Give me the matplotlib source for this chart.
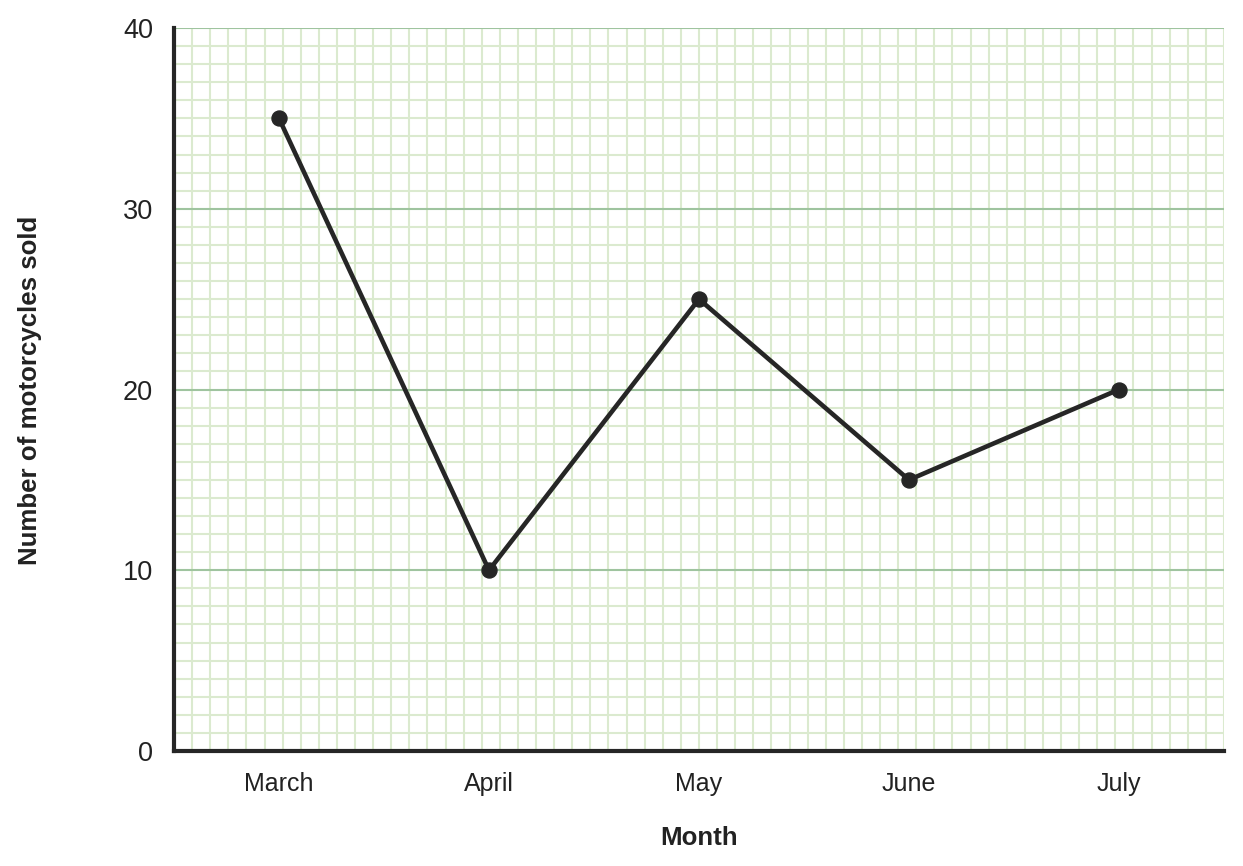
import matplotlib
matplotlib.use("Agg")
import matplotlib.pyplot as plt
import numpy as np

months = ["March", "April", "May", "June", "July"]
sold = [35, 10, 25, 15, 20]

plt.rcParams['font.family'] = ['Liberation Sans', 'DejaVu Sans']

fig = plt.figure(figsize=(12.43, 8.66), dpi=100)
ax = fig.add_axes([174/1243, 1-751/866, (1224-174)/1243, (751-28)/866])

x = np.arange(len(months))
ax.set_xlim(-0.5, len(months) - 0.5)
ax.set_ylim(0, 40)

# minor grid
for yv in np.arange(1, 40):
    if yv % 10:
        ax.axhline(yv, color='#dbeacf', lw=1.5, zorder=0)
for xv in np.linspace(-0.5, len(months) - 0.5, 59)[1:]:
    ax.axvline(xv, color='#dbeacf', lw=1.5, zorder=0)
for yv in [10, 20, 30, 40]:
    ax.axhline(yv, color='#9fc49f', lw=1.5, zorder=1)

ax.plot(x, sold, color='#262626', lw=3.3, marker='o', markersize=10.8, zorder=3, clip_on=False)

ax.set_xticks(x)
ax.set_xticklabels(months)
ax.set_yticks([0, 10, 20, 30, 40])
ax.tick_params(axis='both', length=0, colors='#222222')
ax.tick_params(axis='x', pad=15, labelsize=18)
ax.tick_params(axis='y', pad=15, labelsize=19.5)

for s in ['top', 'right']:
    ax.spines[s].set_visible(False)
for s in ['left', 'bottom']:
    ax.spines[s].set_color('#262626')
    ax.spines[s].set_linewidth(3)
    ax.spines[s].set_zorder(4)

fig.text(30/1243, 1-390/866, "Number of motorcycles sold", rotation=90, fontsize=18.6,
         fontweight='bold', color='#222222', ha='center', va='center')
fig.text(699/1243, 1-838/866, "Month", fontsize=18.6, fontweight='bold', color='#222222',
         ha='center', va='center')

fig.savefig("out.png", dpi=100)
